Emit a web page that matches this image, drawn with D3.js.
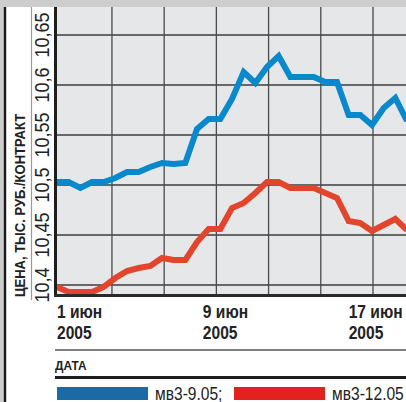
<!DOCTYPE html>
<html>
<head>
<meta charset="utf-8">
<script src="https://cdn.jsdelivr.net/npm/d3@7"></script>
<style>
  html, body { margin: 0; padding: 0; background: #fff; }
  svg { display: block; }
  text { font-family: "Liberation Sans", Arial, sans-serif; fill: #222; }
</style>
</head>
<body>
<svg id="chart" width="406" height="402"></svg>
<script>
// Daily settlement prices, thousand roubles per contract
const seriesNames = ["мв3-9.05", "мв3-12.05"];
const blueValues = [10.503, 10.503, 10.497, 10.503, 10.503, 10.507, 10.513, 10.513, 10.518, 10.522,
                    10.521, 10.522, 10.556, 10.566, 10.566, 10.586, 10.613, 10.602, 10.618, 10.629,
                    10.608, 10.608, 10.608, 10.603, 10.603, 10.570, 10.570, 10.560, 10.577, 10.587, 10.564];
const redValues  = [10.398, 10.393, 10.393, 10.393, 10.398, 10.407, 10.414, 10.417, 10.419, 10.427,
                    10.425, 10.425, 10.443, 10.456, 10.456, 10.477, 10.482, 10.492, 10.503, 10.503,
                    10.497, 10.497, 10.497, 10.492, 10.487, 10.464, 10.462, 10.454, 10.460, 10.466, 10.455];
const yTicks = [10.4, 10.45, 10.5, 10.55, 10.6, 10.65];
const xTickLabels = [["1 июн", "2005"], ["9 июн", "2005"], ["17 июн", "2005"]];

// Layout
const W = 406, H = 402;
const plot = { left: 57, right: 406, top: 7, bottom: 294 };
const colors = { blue: "#0a88cc", red: "#e2452b", blueKey: "#1a6aa6", redKey: "#e5211d" };
const narrow = 0.82; // horizontal squeeze that gives the condensed typeface look

const svg = d3.select("#chart");

const x = d3.scaleLinear().domain([0, blueValues.length - 1]).range([57, 407]);
const y = d3.scaleLinear().domain([10.4, 10.65]).range([285, 35]);

// Frame: top band, left border, separator
svg.append("rect").attr("x", 0).attr("y", 0).attr("width", W).attr("height", 7).attr("fill", "#cdcdcd");
svg.append("rect").attr("x", 0).attr("y", 0).attr("width", 4).attr("height", H).attr("fill", "#cdcdcd");
svg.append("line").attr("x1", 5).attr("x2", 5).attr("y1", 7).attr("y2", H)
  .attr("stroke", "#1a1a1a").attr("stroke-width", 2.4);
svg.append("line").attr("x1", 31.5).attr("x2", 31.5).attr("y1", 7).attr("y2", 300)
  .attr("stroke", "#9a9a9a").attr("stroke-width", 1.2);

// Plot background
svg.append("rect").attr("x", plot.left).attr("y", plot.top)
  .attr("width", plot.right - plot.left).attr("height", plot.bottom - plot.top)
  .attr("fill", "#e6e7e9");

// Grid
const grid = svg.append("g");
grid.selectAll("line.h").data(yTicks).join("line")
  .attr("x1", plot.left).attr("x2", plot.right)
  .attr("y1", d => y(d)).attr("y2", d => y(d))
  .attr("stroke", "#3c3c3c").attr("stroke-width", 1.3);
const gridStart = 4.71, gridStep = 4.475;
const vGrid = d3.range(gridStart, blueValues.length, gridStep);
grid.selectAll("line.v").data(vGrid).join("line")
  .attr("x1", d => x(d)).attr("x2", d => x(d))
  .attr("y1", plot.top).attr("y2", plot.bottom)
  .attr("stroke", "#4a4a4a").attr("stroke-width", 1.3);

// Series lines
svg.append("clipPath").attr("id", "clip").append("rect")
  .attr("x", plot.left).attr("y", plot.top)
  .attr("width", plot.right - plot.left).attr("height", plot.bottom - plot.top);

const line = d3.line().x((d, i) => x(i)).y(d => y(d));
const lines = svg.append("g").attr("clip-path", "url(#clip)");
lines.append("path").datum(redValues).attr("d", line)
  .attr("fill", "none").attr("stroke", colors.red).attr("stroke-width", 6).attr("stroke-linejoin", "miter");
lines.append("path").datum(blueValues).attr("d", line)
  .attr("fill", "none").attr("stroke", colors.blue).attr("stroke-width", 6).attr("stroke-linejoin", "miter");

// Axes lines
svg.append("line").attr("x1", 55.5).attr("x2", 55.5).attr("y1", plot.top).attr("y2", 297)
  .attr("stroke", "#1e1e1e").attr("stroke-width", 3);
svg.append("line").attr("x1", 54).attr("x2", W).attr("y1", 295.5).attr("y2", 295.5)
  .attr("stroke", "#2a2a2a").attr("stroke-width", 3);

// Y tick labels (rotated)
svg.append("g").selectAll("text").data(yTicks).join("text")
  .attr("transform", d => `translate(42,${y(d)}) rotate(-90) scale(0.9,1)`)
  .attr("text-anchor", "middle").attr("dominant-baseline", "central")
  .attr("font-size", 20)
  .text(d => d3.format(".2~f")(d).replace(".", ","));

// Y title
svg.append("text")
  .attr("transform", "translate(20,297) rotate(-90) scale(0.93,1)")
  .attr("text-anchor", "start").attr("dominant-baseline", "central")
  .attr("font-size", 14).attr("font-weight", "bold")
  .text("ЦЕНА, ТЫС. РУБ./КОНТРАКТ");

// X tick labels
const labelStep = 12.5;
const xl = svg.append("g").selectAll("g").data(xTickLabels).join("g")
  .attr("transform", (d, i) => `translate(${x(i * labelStep)},0) scale(${narrow},1)`);
xl.append("text").attr("y", 318).attr("font-size", 19).attr("font-weight", "bold").text(d => d[0]);
xl.append("text").attr("y", 339).attr("font-size", 19).attr("font-weight", "bold").text(d => d[1]);

// X title block
svg.append("line").attr("x1", 55).attr("x2", W).attr("y1", 350).attr("y2", 350)
  .attr("stroke", "#555").attr("stroke-width", 1.5);
svg.append("text").attr("transform", `translate(55,370) scale(0.88,1)`)
  .attr("font-size", 13.5).attr("font-weight", "bold").text("ДАТА");
svg.append("line").attr("x1", 55).attr("x2", W).attr("y1", 377.5).attr("y2", 377.5)
  .attr("stroke", "#1e1e1e").attr("stroke-width", 3);

// Legend
const legend = [
  { name: seriesNames[0] + ";", color: colors.blueKey, x0: 57 },
  { name: seriesNames[1], color: colors.redKey, x0: 234 }
];
const lg = svg.append("g").selectAll("g").data(legend).join("g");
lg.append("rect").attr("x", d => d.x0).attr("y", 387).attr("width", 91).attr("height", 13)
  .attr("fill", d => d.color);
lg.append("text").attr("transform", d => `translate(${d.x0 + 98},400) scale(${narrow},1)`)
  .attr("font-size", 19).text(d => d.name);
</script>
</body>
</html>
